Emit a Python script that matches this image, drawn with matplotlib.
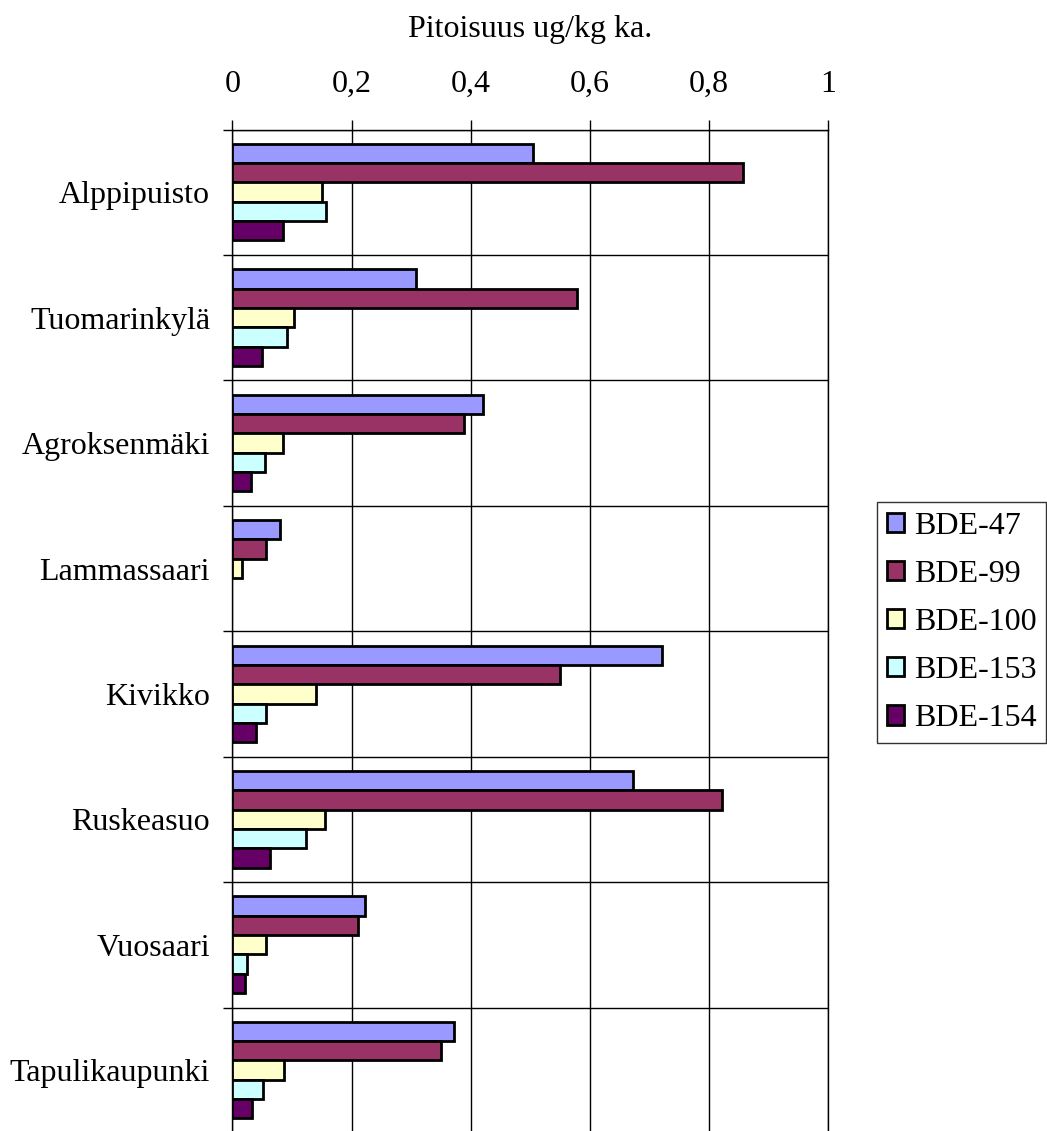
import numpy as np
import matplotlib
matplotlib.use("Agg")
import matplotlib.pyplot as plt
from matplotlib.patches import Patch
from matplotlib.ticker import FixedLocator, FuncFormatter

plt.rcParams['font.family'] = ['Liberation Serif', 'DejaVu Serif']

# PBDE concentrations (ug/kg dry weight) per sampling site
sites = ["Alppipuisto", "Tuomarinkylä", "Agroksenmäki", "Lammassaari",
         "Kivikko", "Ruskeasuo", "Vuosaari", "Tapulikaupunki"]
bde47 = [0.505, 0.308, 0.421, 0.080, 0.721, 0.672, 0.222, 0.372]
bde99 = [0.857, 0.578, 0.388, 0.056, 0.550, 0.821, 0.211, 0.351]
bde100 = [0.151, 0.104, 0.085, 0.016, 0.140, 0.155, 0.056, 0.086]
bde153 = [0.157, 0.091, 0.055, 0.0, 0.056, 0.123, 0.024, 0.051]
bde154 = [0.085, 0.050, 0.032, 0.0, 0.040, 0.064, 0.021, 0.033]
series_names = ["BDE-47", "BDE-99", "BDE-100", "BDE-153", "BDE-154"]
x_ticks = [0, 0.2, 0.4, 0.6, 0.8, 1.0]
x_title = "Pitoisuus ug/kg ka."

series = [bde47, bde99, bde100, bde153, bde154]
colors = ["#9999FF", "#993366", "#FFFFCC", "#CCFFFF", "#660066"]

W, H = 1047, 1131
fig = plt.figure(figsize=(W / 100, H / 100), dpi=100)
ax = fig.add_axes([232.3 / W, -2 / H, 596 / W, 1003.5 / H])

n = len(sites)
bar_h = 0.154
group_start = -0.386
y = np.arange(n)
for j, (vals, col) in enumerate(zip(series, colors)):
    vals = np.asarray(vals, dtype=float)
    mask = vals > 0
    yc = y + group_start + bar_h * (j + 0.5)
    ax.barh(yc[mask], vals[mask], height=bar_h, color=col,
            edgecolor="black", linewidth=2.0, zorder=3)

ax.set_xlim(0, 1)
ax.set_ylim(n - 0.5, -0.5)

# x axis on top with comma decimals
ax.xaxis.tick_top()
ax.xaxis.set_major_locator(FixedLocator(x_ticks))
ax.xaxis.set_major_formatter(FuncFormatter(
    lambda v, p: ("%g" % round(v, 2)).replace(".", ",")))
ax.tick_params(axis="x", which="major", direction="out", length=7,
               width=1, pad=15, labelsize=23, colors="black")

# category labels at band centres, tick marks at band boundaries
ax.set_yticks(y)
ax.set_yticklabels(sites)
ax.yaxis.set_minor_locator(FixedLocator(np.arange(n + 1) - 0.5))
ax.tick_params(axis="y", which="major", length=0, pad=16, labelsize=23)
ax.tick_params(axis="y", which="minor", direction="out", length=6.5, width=1)

ax.grid(axis="x", which="major", color="black", linewidth=1.0, zorder=1)
ax.grid(axis="y", which="minor", color="black", linewidth=1.0, zorder=1)
ax.set_axisbelow(True)
for s in ["left", "top", "right", "bottom"]:
    ax.spines[s].set_color("black")
    ax.spines[s].set_linewidth(1.0)

fig.text(530 / W, 1 - 30 / H, x_title, ha="center", va="center", fontsize=23)

handles = [Patch(facecolor=c, edgecolor="black", linewidth=2.0) for c in colors]
leg = fig.legend(handles, series_names, loc="upper left",
                 bbox_to_anchor=(877 / W, 1 - 502 / H), fontsize=23,
                 frameon=True, fancybox=False, shadow=False,
                 handlelength=0.55, handleheight=0.55, handletextpad=0.3,
                 labelspacing=0.6, borderpad=0.3, borderaxespad=0.0)
leg.get_frame().set_edgecolor("black")
leg.get_frame().set_linewidth(1.0)

fig.savefig("out.png", dpi=100, facecolor="white")
